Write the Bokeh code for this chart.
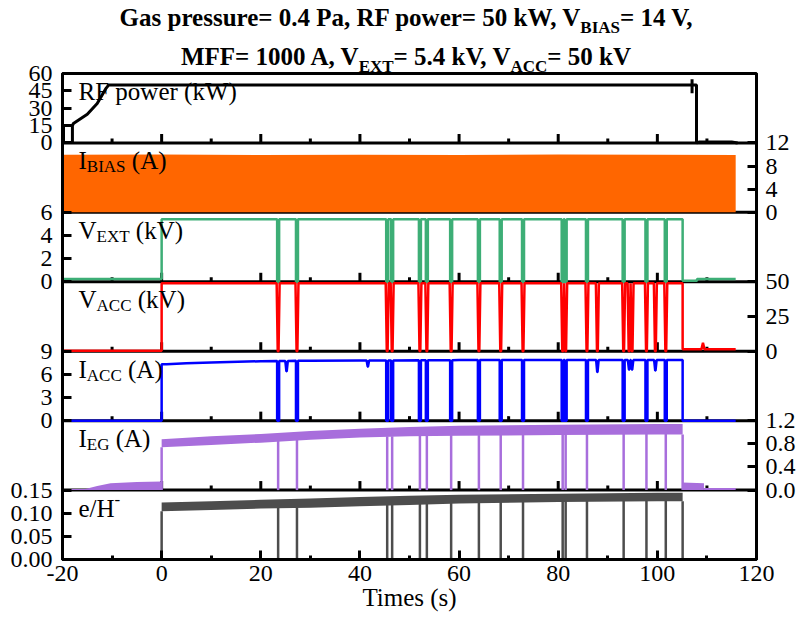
from bokeh.plotting import figure
from bokeh.layouts import column
from bokeh.models import Range1d, LinearAxis, FixedTicker, SingleIntervalTicker, Span, Label, Div
from bokeh.embed import file_html
from bokeh.resources import INLINE

# ---------------- data ----------------
x_major = [-20, 0, 20, 40, 60, 80, 100, 120]
x_minor = [-10, 10, 30, 50, 70, 90, 110]

# beam drop-outs (s), common to all beam signals
t_drop = [23.5, 27.3, 45.5, 46.5, 52.1, 53.5, 58.4, 64.0, 68.4, 72.9,
          80.9, 81.5, 85.8, 93.2, 97.8, 101.7]
t_beam_off = 105.1

# RF power (kW)
rf_t = [-20.0, -19.8, -19.8, -18.0, -18.0, -18.0, -17.8, -15.0, -13.0, -11.3, -10.7,
        107.0, 107.0, 107.0, 107.0, 107.9, 107.9, 108.5, 115.0, 116.2]
rf_v = [0, 0, 15, 15, 0, 15, 16.8, 24.7, 34.0, 46.7, 50,
        50, 55, 43, 50, 50, 0, 0.8, 0.8, 0]

# I_BIAS (A) - envelope of the dense signal
ibias_t = [-20, 0, 20, 40, 60, 80, 100, 115.8]
ibias_top = [9.95, 10.0, 9.9, 9.95, 9.9, 10.0, 9.95, 9.9]

# V_EXT (kV)
vext_pre_t = [-20.0, 0.0]
vext_pre_v = [0.25, 0.25]
vext_on_t = [0.0, 105.1]
vext_on_v = [5.4, 5.4]
vext_drop_lvl = [5.4, 5.4, 5.4, 5.4, 5.4, 5.4, 5.4, 5.4, 5.4, 5.4, 5.4, 5.4, 5.4, 5.4, 5.4, 5.4]
vext_post_t = [105.1, 108.0, 108.0, 115.8]
vext_post_v = [0.1, 0.1, 0.25, 0.25]

# V_ACC (kV)
vacc_pre_t = [-20.0, 0.0]
vacc_pre_v = [0.3, 0.3]
vacc_on_t = [0.0, 105.1]
vacc_on_v = [49.0, 49.0]
vacc_drop_t = [23.5, 27.3, 45.5, 46.5, 52.1, 53.5, 58.4, 64.0, 68.4, 72.9,
               80.9, 81.5, 85.8, 87.9, 93.2, 94.3, 94.9, 97.8, 99.6, 101.7]
vacc_drop_lvl = [49.0] * 20
vacc_post_t = [105.1, 108.9, 109.2, 109.5, 115.8]
vacc_post_v = [1.5, 1.5, 6.0, 1.5, 1.5]

# I_ACC (A)
iacc_pre_t = [-20.0, 0.0]
iacc_pre_v = [0.0, 0.0]
iacc_on_t = [0.0, 1.0, 5.0, 10.0, 20.0, 30.0, 40.0, 60.0, 80.0, 105.1]
iacc_on_v = [7.3, 7.3, 7.45, 7.55, 7.7, 7.75, 7.8, 7.85, 7.85, 7.85]
iacc_drop_lvl = [7.72, 7.75, 7.8, 7.8, 7.82, 7.82, 7.84, 7.85, 7.85, 7.85,
                 7.85, 7.85, 7.85, 7.85, 7.85, 7.85]
iacc_dip_t = [25.2, 41.6, 87.9, 94.3, 94.9, 99.6]
iacc_dip_v = [6.4, 7.0, 6.3, 6.6, 6.6, 6.5]
iacc_dip_lvl = [7.72, 7.8, 7.85, 7.85, 7.85, 7.85]
iacc_post_t = [105.1, 115.8]
iacc_post_v = [0.0, 0.0]

# I_EG (A)
ieg_pre_t = [-20.0, -15.4, -13.0, -10.3, -5.0, 0.0]
ieg_pre_top = [0.02, 0.02, 0.07, 0.12, 0.14, 0.15]
ieg_t = [0.0, 10.0, 20.0, 30.0, 40.0, 50.0, 60.0, 80.0, 100.0, 105.1]
ieg_lo = [0.74, 0.78, 0.82, 0.87, 0.91, 0.93, 0.94, 0.95, 0.96, 0.96]
ieg_hi = [0.88, 0.93, 0.97, 1.02, 1.06, 1.09, 1.11, 1.13, 1.14, 1.14]
ieg_drop_lvl = [0.86, 0.87, 0.93, 0.93, 0.94, 0.94, 0.95, 0.95, 0.96, 0.96,
                0.97, 0.97, 0.97, 0.98, 0.98, 0.98]
ieg_post_t = [105.1, 109.4]
ieg_post_top = [0.13, 0.12]
ieg_tail_t = [109.4, 115.8]
ieg_tail_v = [0.02, 0.02]

# e/H-
eh_t = [0.0, 10.0, 20.0, 30.0, 40.0, 50.0, 60.0, 80.0, 100.0, 105.1]
eh_lo = [0.104, 0.107, 0.110, 0.112, 0.115, 0.118, 0.121, 0.124, 0.126, 0.126]
eh_hi = [0.123, 0.126, 0.129, 0.132, 0.135, 0.138, 0.140, 0.142, 0.144, 0.144]
eh_drop_lvl = [0.112, 0.113, 0.118, 0.118, 0.12, 0.12, 0.122, 0.124, 0.125, 0.126,
               0.127, 0.127, 0.128, 0.129, 0.13, 0.13]

# panels, top to bottom: name, y-range, ticks, tick labels, axis side
panel_names = ["rf", "ibias", "vext", "vacc", "iacc", "ieg", "eh"]
panel_ranges = [(0, 60), (0, 12), (0, 6), (0, 50), (0, 9), (0, 1.2), (0, 0.15)]
panel_ticks = [[0, 15, 30, 45, 60], [0, 4, 8, 12], [0, 2, 4, 6], [0, 25, 50],
               [0, 3, 6, 9], [0, 0.4, 0.8, 1.2], [0, 0.05, 0.10, 0.15]]
panel_tick_labels = [["0", "15", "30", "45", "60"], ["0", "4", "8", "12"],
                     ["0", "2", "4", "6"], ["0", "25", "50"], ["0", "3", "6", "9"],
                     ["0.0", "0.4", "0.8", "1.2"], ["0.00", "0.05", "0.10", "0.15"]]
panel_sides = ["left", "right", "left", "right", "left", "right", "left"]

# ---------------- styling constants ----------------
FONT = "Liberation Serif"
TOTAL_W, TOTAL_H = 798, 619
TITLE_H = 58
W, H = TOTAL_W, TOTAL_H - TITLE_H
ML, MR, MT, MB = 62, 40, 73 - TITLE_H, 60
FRAME_H = H - MT - MB
NP = len(panel_names)
PX_PER_UNIT = FRAME_H / NP
C_ORANGE = "#FF6600"
C_GREEN = "#3DAE76"
C_RED = "#FF0000"
C_BLUE = "#0000FF"
C_PURPLE = "#A86EDC"
C_GRAY = "#4D4D4D"

sub = "font-size:17px;vertical-align:baseline;position:relative;top:7px;"
title_html = (
    "<div style=\"display:block;width:798px;box-sizing:border-box;padding-left:14px;"
    "font-family:'Liberation Serif';font-weight:bold;font-size:25px;"
    "line-height:36px;text-align:center;color:black;white-space:nowrap;\">"
    f"Gas pressure= 0.4 Pa, RF power= 50 kW, V<sub style='{sub}'>BIAS</sub>= 14 V,<br>"
    f"MFF= 1000 A, V<sub style='{sub}'>EXT</sub>= 5.4 kV, "
    f"V<sub style='{sub}'>ACC</sub>= 50 kV</div>"
)
title = Div(text=title_html, width=TOTAL_W, height=TITLE_H, margin=(0, 0, 0, 0),
            styles={"overflow": "visible", "width": f"{TOTAL_W}px"})

p = figure(width=W, height=H, output_backend="svg", toolbar_location=None,
           x_range=Range1d(-20, 120), y_range=Range1d(0, NP),
           min_border_left=ML, min_border_right=MR, min_border_top=MT,
           min_border_bottom=MB, background_fill_color="white",
           border_fill_color=None, margin=(0, 0, 0, 0))
p.xgrid.visible = False
p.ygrid.visible = False
p.outline_line_color = "black"
p.outline_line_width = 3
p.outline_line_alpha = 1

# per-panel y ranges so each signal goes through its own scale
k_of = {}
for i, (name, (a, b)) in enumerate(zip(panel_names, panel_ranges)):
    k = NP - 1 - i
    k_of[name] = k
    p.extra_y_ranges[name] = Range1d(a - k * (b - a), b + (NP - 1 - k) * (b - a))

# axes: ticks mapped onto the stacked panel coordinate
left_ticks, right_ticks, left_lab, right_lab = [], [], {}, {}
for name, (a, b), ticks, labs, side in zip(panel_names, panel_ranges, panel_ticks,
                                            panel_tick_labels, panel_sides):
    k = k_of[name]
    for v, s in zip(ticks, labs):
        pos = k + (v - a) / (b - a)
        if side == "left":
            left_ticks.append(pos)
            left_lab[pos] = s
        else:
            right_ticks.append(pos)
            right_lab[pos] = s


def style_axis(ax, standoff):
    ax.axis_line_width = 3
    ax.axis_line_color = "black"
    ax.major_tick_in = 9
    ax.major_tick_out = 0
    ax.major_tick_line_width = 3
    ax.minor_tick_in = 4
    ax.minor_tick_out = 0
    ax.minor_tick_line_width = 3
    ax.major_label_text_font = FONT
    ax.major_label_text_font_size = "24px"
    ax.major_label_text_color = "black"
    ax.major_label_standoff = standoff


yl = p.yaxis[0]
yl.ticker = FixedTicker(ticks=left_ticks, minor_ticks=[])
yl.major_label_overrides = left_lab
style_axis(yl, 10)

yr = LinearAxis(ticker=FixedTicker(ticks=right_ticks, minor_ticks=[]),
                major_label_overrides=right_lab)
style_axis(yr, 9)
p.add_layout(yr, "right")

xa = p.xaxis[0]
xa.ticker = SingleIntervalTicker(interval=20, num_minor_ticks=2)
xa.major_label_overrides = {v: str(v) for v in x_major}
style_axis(xa, 6)
xa.axis_label = "Times (s)"
xa.axis_label_text_font = FONT
xa.axis_label_text_font_size = "25px"
xa.axis_label_text_font_style = "normal"
xa.axis_label_text_color = "black"
xa.axis_label_standoff = 0

# panel separators
for k in range(1, NP):
    p.add_layout(Span(location=k, dimension="width", line_color="black",
                      line_width=3, level="underlay"))

# inward x ticks at every inner panel bottom
L_MAJ = 9 / PX_PER_UNIT
L_MIN = 4.5 / PX_PER_UNIT
tx0, ty0, ty1 = [], [], []
for k in range(1, NP):
    for x in x_major:
        tx0.append(x); ty0.append(k); ty1.append(k + L_MAJ)
    for x in x_minor:
        tx0.append(x); ty0.append(k); ty1.append(k + L_MIN)
p.segment(x0=tx0, y0=ty0, x1=tx0, y1=ty1, line_color="black", line_width=3)


def with_events(on_t, on_v, events):
    pts = [(t, 0, v) for t, v in zip(on_t, on_v)]
    for (t, lv, bot, wt, wb) in events:
        pts += [(t - wt, 1, lv), (t - wb, 2, bot), (t + wb, 3, bot), (t + wt, 4, lv)]
    pts.sort(key=lambda q: (q[0], q[1]))
    return [q[0] for q in pts], [q[2] for q in pts]


# ---- RF power ----
p.line(rf_t, rf_v, y_range_name="rf", line_color="black", line_width=3)

# ---- I_BIAS ----
p.varea(x=ibias_t, y1=[0] * len(ibias_t), y2=ibias_top, y_range_name="ibias",
        fill_color=C_ORANGE)

# ---- V_EXT ----
ex, ey = with_events(vext_on_t, vext_on_v,
                     [(t, lv, 0.0, 0.2, 0.2) for t, lv in zip(t_drop, vext_drop_lvl)])
p.line(vext_pre_t + ex + vext_post_t, vext_pre_v + ey + vext_post_v,
       y_range_name="vext", line_color=C_GREEN, line_width=2.5)

# ---- V_ACC ----
ax_, ay_ = with_events(vacc_on_t, vacc_on_v,
                       [(t, lv, 0.0, 0.3, 0.08) for t, lv in zip(vacc_drop_t, vacc_drop_lvl)])
p.line(vacc_pre_t + ax_ + vacc_post_t, vacc_pre_v + ay_ + vacc_post_v,
       y_range_name="vacc", line_color=C_RED, line_width=2.5)

# ---- I_ACC ----
ev = [(t, lv, 0.0, 0.2, 0.2) for t, lv in zip(t_drop, iacc_drop_lvl)]
ev += [(t, lv, d, 0.25, 0.03) for t, lv, d in zip(iacc_dip_t, iacc_dip_lvl, iacc_dip_v)]
ix, iy = with_events(iacc_on_t, iacc_on_v, ev)
p.line(iacc_pre_t + ix + iacc_post_t, iacc_pre_v + iy + iacc_post_v,
       y_range_name="iacc", line_color=C_BLUE, line_width=2.5)

# ---- I_EG ----
seg_x = [0.0] + t_drop + [t_beam_off]
p.segment(x0=seg_x, y0=[0] * len(seg_x), x1=seg_x,
          y1=[ieg_lo[0]] + ieg_drop_lvl + [ieg_lo[-1]],
          y_range_name="ieg", line_color=C_PURPLE, line_width=2.5)
p.varea(x=ieg_pre_t, y1=[0] * len(ieg_pre_t), y2=ieg_pre_top, y_range_name="ieg",
        fill_color=C_PURPLE)
p.varea(x=ieg_t, y1=ieg_lo, y2=ieg_hi, y_range_name="ieg", fill_color=C_PURPLE)
p.varea(x=ieg_post_t, y1=[0] * len(ieg_post_t), y2=ieg_post_top, y_range_name="ieg",
        fill_color=C_PURPLE)
p.line(ieg_tail_t, ieg_tail_v, y_range_name="ieg", line_color=C_PURPLE, line_width=2)

# ---- e/H- ----
p.segment(x0=seg_x, y0=[0] * len(seg_x), x1=seg_x,
          y1=[eh_lo[0]] + eh_drop_lvl + [eh_lo[-1]],
          y_range_name="eh", line_color=C_GRAY, line_width=2.5)
p.varea(x=eh_t, y1=eh_lo, y2=eh_hi, y_range_name="eh", fill_color=C_GRAY)

# ---------------- panel labels (inside the frame) ----------------
W_REG = {' ': 250, '(': 333, ')': 333, '/': 278, '-': 333, 'A': 722, 'B': 667, 'C': 667,
         'E': 611, 'F': 556, 'G': 722, 'H': 722, 'I': 333, 'R': 667, 'S': 556, 'T': 611,
         'V': 722, 'W': 944, 'X': 722, 'e': 444, 'k': 500, 'o': 500, 'p': 500, 'r': 333,
         'w': 722}


def tw(s, size):
    return sum(W_REG.get(c, 500) for c in s) * size / 1000.0


def rich(runs, x_px, y, dy, size, small, sub_drop, sup_rise):
    x = x_px
    for text, kind in runs:
        sz = size if kind == "n" else small
        off = dy - sub_drop if kind == "s" else (dy + sup_rise if kind == "p" else dy)
        body = text.lstrip(" ")
        x += tw(text[:len(text) - len(body)], sz)
        p.add_layout(Label(x=-20, y=y, x_offset=x, y_offset=off, text=body,
                           text_font=FONT, text_font_size=f"{sz}px",
                           text_color="black", text_align="left",
                           text_baseline="alphabetic"))
        x += tw(body, sz)


panel_label_runs = [
    [("RF power (kW)", "n")],
    [("I", "n"), ("BIAS", "s"), (" (A)", "n")],
    [("V", "n"), ("EXT", "s"), (" (kV)", "n")],
    [("V", "n"), ("ACC", "s"), (" (kV)", "n")],
    [("I", "n"), ("ACC", "s"), (" (A)", "n")],
    [("I", "n"), ("EG", "s"), (" (A)", "n")],
    [("e/H", "n"), ("-", "p")],
]
for name, runs in zip(panel_names, panel_label_runs):
    rich(runs, 16, k_of[name] + 1, -18, 25, 17, 6, 9)

layout = column(title, p, spacing=0)
open("out.html", "w").write(file_html(layout, INLINE))
